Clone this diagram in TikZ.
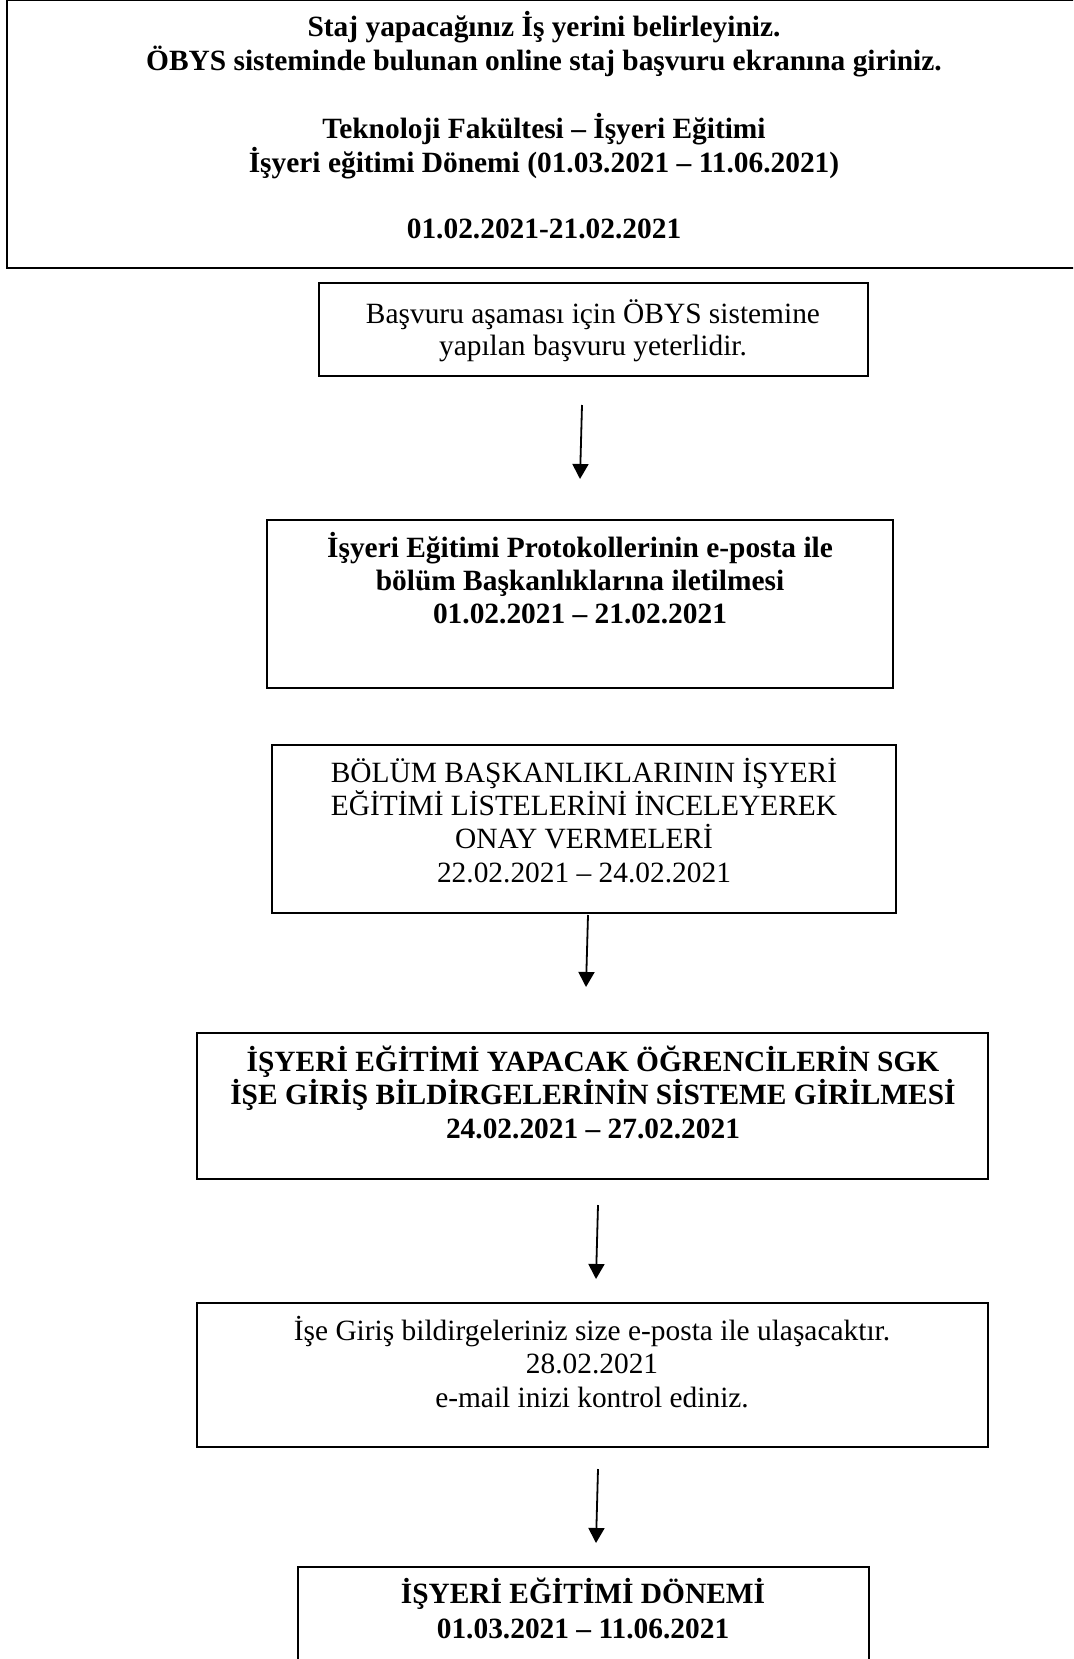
\documentclass[tikz,border=0pt]{standalone}
\usepackage{fontspec}
\setmainfont{Liberation Serif}
\usetikzlibrary{arrows.meta}
\tikzset{
  box/.style={draw=black, line width=2pt, rectangle, inner sep=0pt, outer sep=0pt},
  topbox/.style={box, line width=2.6pt},
  txt/.style={font=\fontsize{29.4}{33}\selectfont, inner sep=0pt, anchor=base},
  btxt/.style={txt, font=\fontsize{29.4}{33}\selectfont\bfseries},
  arr/.style={draw=black, line width=1.8pt, -{Triangle[length=15pt,width=16pt]}}
}
\begin{document}
\begin{tikzpicture}[x=1pt,y=-1pt]
\clip (0,0) rectangle (1073,1659);
\fill[white] (0,0) rectangle (1073,1659);
% boxes
\node[topbox, minimum width=1080pt, minimum height=268pt] (b1) at (547,134) {};
\node[box, minimum width=549pt, minimum height=93pt] (b2) at (593.5,329) {};
\node[box, minimum width=626pt, minimum height=168pt] (b3) at (580,604) {};
\node[box, minimum width=624pt, minimum height=168pt] (b4) at (584,829) {};
\node[box, minimum width=791pt, minimum height=146pt] (b5) at (592.5,1106) {};
\node[box, minimum width=791pt, minimum height=144pt] (b6) at (592.5,1375) {};
\node[box, minimum width=571pt, minimum height=140pt] (b7) at (583.5,1637) {};
% box 1 text
\node[btxt] (t11) at (544,37) {Staj yapacağınız İş yerini belirleyiniz.};
\node[btxt] (t12) at (544,70.5) {ÖBYS sisteminde bulunan online staj başvuru ekranına giriniz.};
\node[btxt] (t13) at (544,139) {Teknoloji Fakültesi – İşyeri Eğitimi};
\node[btxt] (t14) at (544,172.5) {İşyeri eğitimi Dönemi (01.03.2021 – 11.06.2021)};
\node[btxt] (t15) at (544,238) {01.02.2021-21.02.2021};
% box 2 text
\node[txt] (t21) at (593,323) {Başvuru aşaması için ÖBYS sistemine};
\node[txt] (t22) at (593,355) {yapılan başvuru yeterlidir.};
% box 3 text
\node[btxt] (t31) at (580,557) {İşyeri Eğitimi Protokollerinin e-posta ile};
\node[btxt] (t32) at (580,590) {bölüm Başkanlıklarına iletilmesi};
\node[btxt] (t33) at (580,623) {01.02.2021 – 21.02.2021};
% box 4 text
\node[txt] (t41) at (584,782) {BÖLÜM BAŞKANLIKLARININ İŞYERİ};
\node[txt] (t42) at (584,815) {EĞİTİMİ LİSTELERİNİ İNCELEYEREK};
\node[txt] (t43) at (584,848) {ONAY VERMELERİ};
\node[txt] (t44) at (584,882) {22.02.2021 – 24.02.2021};
% box 5 text
\node[btxt] (t51) at (593,1071) {İŞYERİ EĞİTİMİ YAPACAK ÖĞRENCİLERİN SGK};
\node[btxt] (t52) at (593,1104) {İŞE GİRİŞ BİLDİRGELERİNİN SİSTEME GİRİLMESİ};
\node[btxt] (t53) at (593,1138) {24.02.2021 – 27.02.2021};
% box 6 text
\node[txt] (t61) at (592,1340) {İşe Giriş bildirgeleriniz size e-posta ile ulaşacaktır.};
\node[txt] (t62) at (592,1373) {28.02.2021};
\node[txt] (t63) at (592,1407) {e-mail inizi kontrol ediniz.};
% box 7 text
\node[btxt] (t71) at (583,1603) {İŞYERİ EĞİTİMİ DÖNEMİ};
\node[btxt] (t72) at (583,1638) {01.03.2021 – 11.06.2021};
% arrows
\coordinate (a1s) at (582,405);
\coordinate (a1e) at (580,479);
\coordinate (a2s) at (588,915);
\coordinate (a2e) at (586,987);
\coordinate (a3s) at (598,1205);
\coordinate (a3e) at (596,1279);
\coordinate (a4s) at (598,1469);
\coordinate (a4e) at (596,1543);
\draw[arr] (a1s) -- (a1e);
\draw[arr] (a2s) -- (a2e);
\draw[arr] (a3s) -- (a3e);
\draw[arr] (a4s) -- (a4e);
\end{tikzpicture}
\end{document}
